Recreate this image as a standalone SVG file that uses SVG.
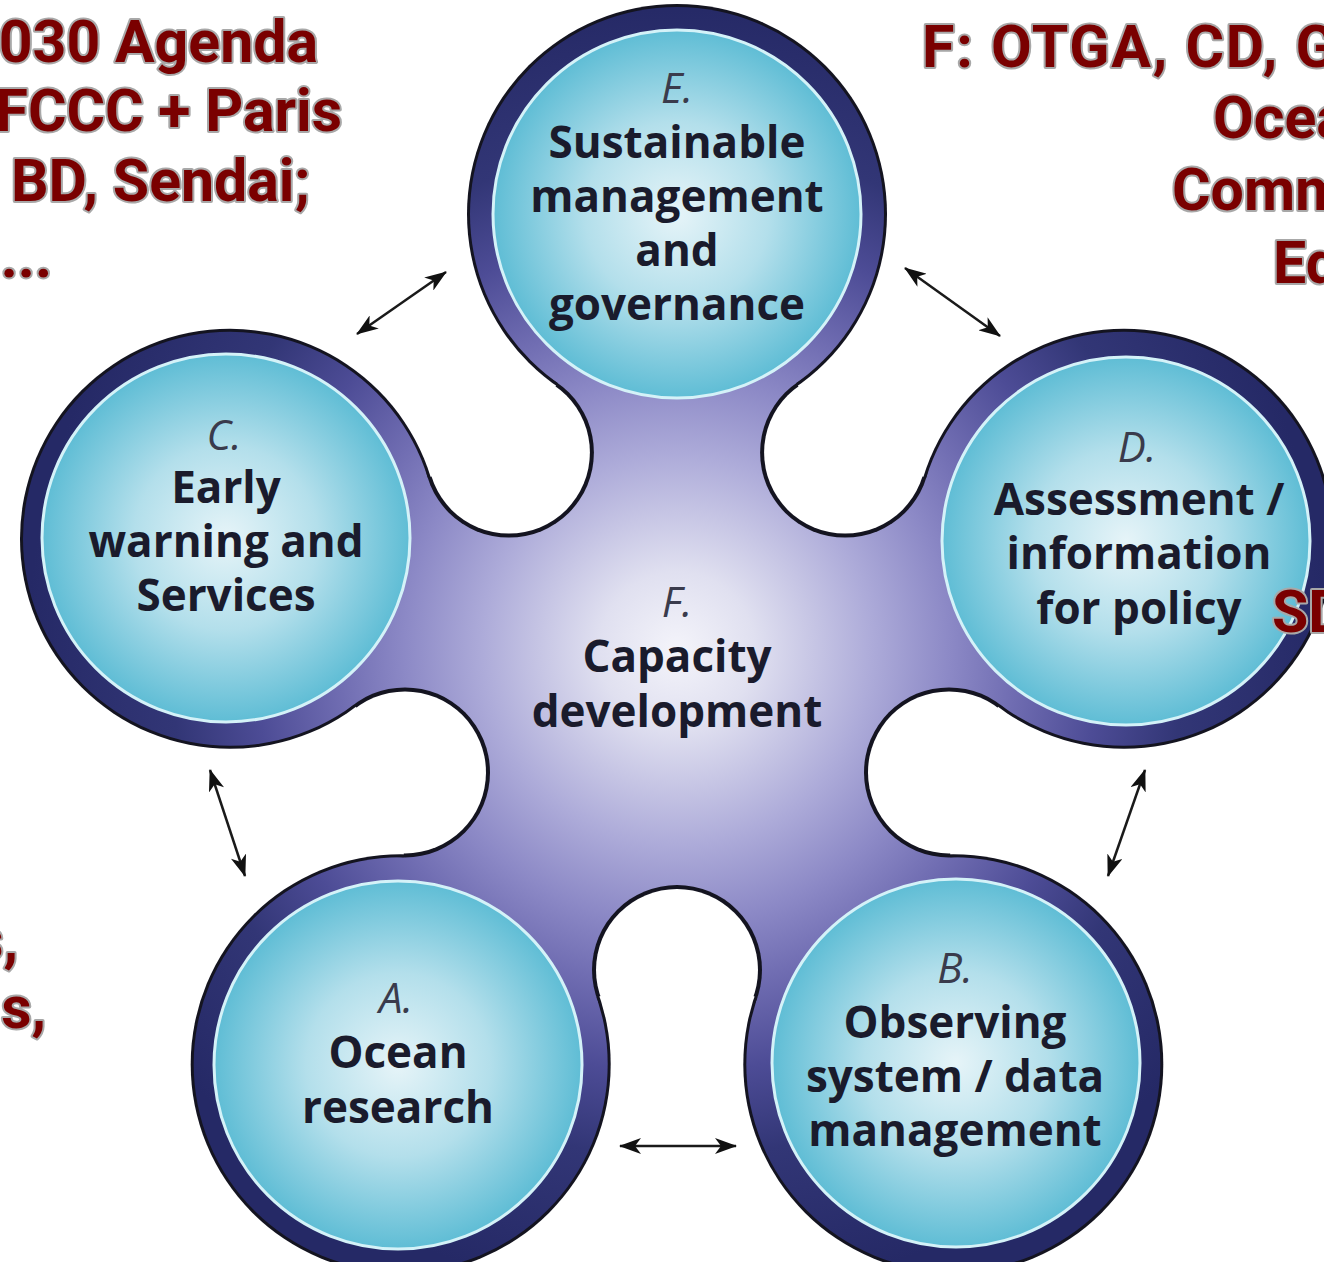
<svg xmlns="http://www.w3.org/2000/svg" width="1324" height="1262" viewBox="0 0 1324 1262">
<style>
.red{font-family:Roboto,"Liberation Sans",sans-serif;font-weight:700;font-size:59px;fill:#7a0000;stroke:#a8a8a8;stroke-width:4px;paint-order:stroke;stroke-linejoin:round}
.lbl{font-family:"Open Sans","Liberation Sans",sans-serif;font-weight:700;font-size:44px;fill:#1a1b2c;text-anchor:middle}
.ltr{font-family:"Open Sans","Liberation Sans",sans-serif;font-style:italic;font-weight:400;font-size:42px;fill:#3a3b4c;text-anchor:middle}
.inner{fill:url(#gIn);stroke:#d4f2f8;stroke-width:3}
.arr{stroke:#1a1a1a;stroke-width:2.5;fill:none;marker-start:url(#ah);marker-end:url(#ah)}
</style>
<defs>
<radialGradient id="gBody" gradientUnits="userSpaceOnUse" cx="677" cy="650" r="650">
<stop offset="0" stop-color="#f4f4fa"/>
<stop offset="0.12" stop-color="#e0e0f0"/>
<stop offset="0.3" stop-color="#adabd9"/>
<stop offset="0.42" stop-color="#8c89c6"/>
<stop offset="0.52" stop-color="#706db2"/>
<stop offset="0.65" stop-color="#4d4c96"/>
<stop offset="0.78" stop-color="#323676"/>
<stop offset="1" stop-color="#252966"/>
</radialGradient>
<radialGradient id="gIn" cx="0.5" cy="0.5" r="0.5">
<stop offset="0" stop-color="#e6f4f8"/>
<stop offset="0.5" stop-color="#b3dfeb"/>
<stop offset="1" stop-color="#5fbdd5"/>
</radialGradient>
<mask id="mOut" maskUnits="userSpaceOnUse" x="0" y="0" width="1324" height="1262">
<g fill="#fff">
<circle cx="677" cy="214" r="210"/><circle cx="1124" cy="538.8" r="210"/><circle cx="953.3" cy="1064.2" r="210"/><circle cx="400.7" cy="1064.2" r="210"/><circle cx="230" cy="538.8" r="210"/>
<polygon points="677,214 845.1,452.6 1124,538.8 949,772.4 953.3,1064.2 677,970 400.7,1064.2 405,772.4 230,538.8 508.9,452.6"/>
</g>
<g fill="#000">
<circle cx="845.1" cy="452.6" r="81"/><circle cx="949" cy="772.4" r="81"/><circle cx="677" cy="970" r="81"/><circle cx="405" cy="772.4" r="81"/><circle cx="508.9" cy="452.6" r="81"/>
</g>
</mask>
<mask id="mIn" maskUnits="userSpaceOnUse" x="0" y="0" width="1324" height="1262">
<g fill="#fff">
<circle cx="677" cy="214" r="207"/><circle cx="1124" cy="538.8" r="207"/><circle cx="953.3" cy="1064.2" r="207"/><circle cx="400.7" cy="1064.2" r="207"/><circle cx="230" cy="538.8" r="207"/>
<polygon points="677,214 845.1,452.6 1124,538.8 949,772.4 953.3,1064.2 677,970 400.7,1064.2 405,772.4 230,538.8 508.9,452.6"/>
</g>
<g fill="#000">
<circle cx="845.1" cy="452.6" r="85"/><circle cx="949" cy="772.4" r="85"/><circle cx="677" cy="970" r="85"/><circle cx="405" cy="772.4" r="85"/><circle cx="508.9" cy="452.6" r="85"/>
</g>
</mask>
<marker id="ah" viewBox="0 0 22 16" refX="21" refY="8" markerWidth="22" markerHeight="16" markerUnits="userSpaceOnUse" orient="auto-start-reverse">
<path d="M0,0 L22,8 L0,16 L6,8 z" fill="#111"/>
</marker>
</defs>
<rect width="1324" height="1262" fill="#fff"/>

<g id="body">
<rect width="1324" height="1262" fill="#141420" mask="url(#mOut)"/>
<rect width="1324" height="1262" fill="url(#gBody)" mask="url(#mIn)"/>
</g>

<g id="nodeF">
<text class="ltr" x="677" y="617">F.</text>
<text class="lbl" x="677" y="672">Capacity</text>
<text class="lbl" x="677" y="727">development</text>
</g>

<g id="nodeE">
<circle class="inner" cx="677" cy="214" r="184"/>
<text class="ltr" x="677" y="103">E.</text>
<text class="lbl" x="677" y="158">Sustainable</text>
<text class="lbl" x="677" y="212">management</text>
<text class="lbl" x="677" y="266">and</text>
<text class="lbl" x="677" y="320">governance</text>
</g>

<g id="nodeD">
<circle class="inner" cx="1126" cy="541" r="184"/>
<text class="ltr" x="1137" y="462">D.</text>
<text class="lbl" x="1139" y="515">Assessment /</text>
<text class="lbl" x="1139" y="569">information</text>
<text class="lbl" x="1139" y="624">for policy</text>
</g>

<g id="nodeC">
<circle class="inner" cx="226" cy="538" r="184"/>
<text class="ltr" x="224" y="450">C.</text>
<text class="lbl" x="226" y="503">Early</text>
<text class="lbl" x="226" y="557">warning and</text>
<text class="lbl" x="226" y="611">Services</text>
</g>

<g id="nodeA">
<circle class="inner" cx="398" cy="1065" r="184"/>
<text class="ltr" x="396" y="1013">A.</text>
<text class="lbl" x="398" y="1068">Ocean</text>
<text class="lbl" x="398" y="1123">research</text>
</g>

<g id="nodeB">
<circle class="inner" cx="956" cy="1063" r="184"/>
<text class="ltr" x="955" y="983">B.</text>
<text class="lbl" x="955" y="1038">Observing</text>
<text class="lbl" x="955" y="1092">system / data</text>
<text class="lbl" x="955" y="1146">management</text>
</g>

<g id="connectors">
<line class="arr" x1="357" y1="334" x2="446" y2="272"/>
<line class="arr" x1="905" y1="268" x2="1000" y2="336"/>
<line class="arr" x1="210" y1="770" x2="245" y2="876"/>
<line class="arr" x1="1145" y1="770" x2="1108" y2="876"/>
<line class="arr" x1="620" y1="1146" x2="736" y2="1146"/>
</g>

<g id="notes">
<text class="red" x="318" y="62" text-anchor="end">030 Agenda</text>
<text class="red" x="342" y="131" text-anchor="end">FCCC + Paris</text>
<text class="red" x="310" y="201" text-anchor="end">BD, Sendai;</text>
<text class="red" x="52" y="277" text-anchor="end">...</text>
<text class="red" x="922" y="67" letter-spacing="1.8">F: OTGA, CD, G</text>
<text class="red" x="1213" y="138">Ocea</text>
<text class="red" x="1172" y="210">Comm</text>
<text class="red" x="1273" y="283">Ed</text>
<text class="red" x="1272" y="632">SD</text>
<text class="red" x="18" y="960" text-anchor="end">s,</text>
<text class="red" x="46" y="1028" text-anchor="end">s,</text>
</g>
</svg>
